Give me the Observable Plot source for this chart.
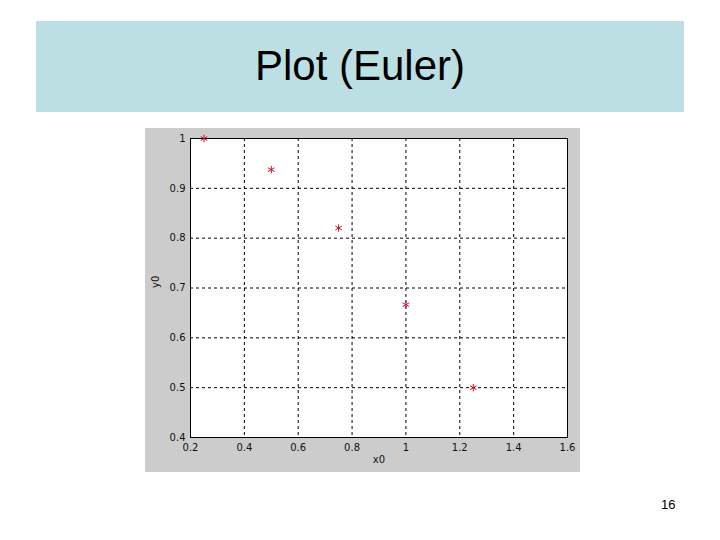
<!DOCTYPE html>
<html>
<head>
<meta charset="utf-8">
<script src="https://cdn.jsdelivr.net/npm/d3@7"></script>
<script src="https://cdn.jsdelivr.net/npm/@observablehq/plot@0.6"></script>
<style>
  html, body { margin: 0; padding: 0; background: #fff; }
  #page { position: relative; width: 720px; height: 540px; overflow: hidden; font-family: "Liberation Sans", Arial, sans-serif; }
  #titlebox { position: absolute; left: 36px; top: 21px; width: 648px; height: 91px; background: #BBDFE3; }
  #title { position: absolute; left: 0; right: 0; top: 24px; text-align: center; font-size: 42px; color: #000; line-height: 1; }
  #chart { position: absolute; left: 145px; top: 128px; }
  #pagenum { position: absolute; left: 661px; top: 497px; font-size: 13px; color: #000; }
</style>
</head>
<body>
<div id="page">
  <div id="titlebox"><div id="title">Plot (Euler)</div></div>
  <div id="chart"></div>
  <div id="pagenum">16</div>
</div>
<script>
const xValues = [0.25, 0.5, 0.75, 1.0, 1.25];
const yValues = [1.0, 0.9375, 0.8203, 0.6665, 0.4999];
const xTicks = [0.2, 0.4, 0.6, 0.8, 1.0, 1.2, 1.4, 1.6];
const yTicks = [0.4, 0.5, 0.6, 0.7, 0.8, 0.9, 1.0];
const xLabel = "x0";
const yLabel = "y0";

const points = xValues.map((x, i) => ({x, y: yValues[i]}));

const chart = Plot.plot({
  width: 435,
  height: 344,
  marginLeft: 45,
  marginTop: 10,
  marginRight: 13,
  marginBottom: 35,
  style: {background: "#CCCCCC", fontFamily: "'DejaVu Sans', sans-serif", fontSize: "10px", color: "#111", overflow: "visible"},
  x: {domain: [0.2, 1.6], ticks: xTicks, tickSize: 0, tickPadding: 6, label: null},
  y: {domain: [0.4, 1.0], ticks: yTicks, tickSize: 0, tickPadding: 5, label: null},
  marks: [
    Plot.frame({fill: "white"}),
    Plot.gridX(xTicks.slice(1, -1), {stroke: "#000", strokeOpacity: 1, strokeDasharray: "3,3", strokeWidth: 1}),
    Plot.gridY(yTicks.slice(1, -1), {stroke: "#000", strokeOpacity: 1, strokeDasharray: "3,3", strokeWidth: 1}),
    Plot.frame({stroke: "#000", strokeWidth: 1}),
    Plot.axisX({ticks: xTicks, tickSize: 0, tickPadding: 6, label: null, tickFormat: d => String(+d.toFixed(1))}),
    Plot.axisY({ticks: yTicks, tickSize: 0, tickPadding: 5, label: null, tickFormat: d => String(+d.toFixed(1))}),
    Plot.text([xLabel], {x: 0.9, frameAnchor: "bottom", dy: 25, text: d => d, fontSize: 10}),
    Plot.text([yLabel], {y: 0.7, frameAnchor: "left", dx: -35, rotate: -90, text: d => d, fontSize: 10}),
    Plot.dot(points, {x: "x", y: "y", symbol: "asterisk", r: 3.5, stroke: "#C8102E", strokeWidth: 1})
  ]
});
document.getElementById("chart").appendChild(chart);
</script>
</body>
</html>
